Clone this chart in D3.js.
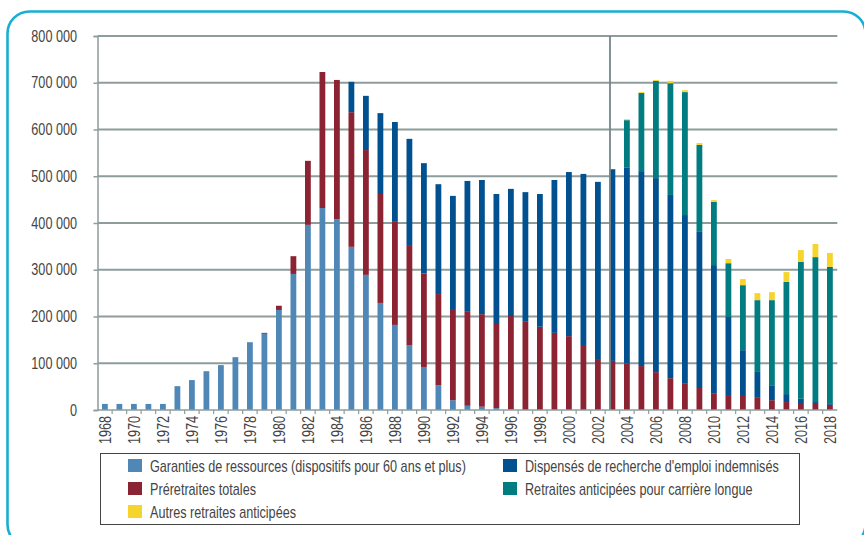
<!DOCTYPE html>
<meta charset="utf-8">
<html>
<head>
    <script src="https://d3js.org/d3.v7.min.js"></script>
    <style>
        body { margin: 0; background: #fff; }
        text { font-family: "Liberation Sans Narrow", "Liberation Sans", Arial, sans-serif; fill: #444; }
    </style>
</head>
<body>
<div id="chart"></div>
<script>
    // years 1968 - 2018
    var years = d3.range(1968, 2019);

    // values in thousands, one per year
    var garanties = [13, 13, 13, 13, 13, 51, 64, 83, 96, 113, 145, 163, 214, 291, 396, 432, 408, 349, 289, 229,
        182, 138, 92, 53, 21, 9, 7, 4, 2, 0, 0, 0, 0, 0, 0, 0, 0, 0, 0, 0, 0, 0, 0, 0, 0, 0, 0, 0, 0, 0, 0];
    var preretraites = [0, 0, 0, 0, 0, 0, 0, 0, 0, 0, 0, 2, 9, 38, 137, 291, 298, 288, 267, 233,
        222, 213, 200, 195, 195, 201, 198, 180, 199, 190, 178, 165, 158, 139, 109, 105, 100, 94, 81, 68,
        56, 47, 36, 32, 30, 26, 21, 17, 15, 15, 11];
    var dispenses = [0, 0, 0, 0, 0, 0, 0, 0, 0, 0, 0, 0, 0, 0, 0, 0, 0, 65, 116, 173,
        212, 229, 236, 235, 242, 280, 287, 278, 272, 276, 284, 327, 351, 366, 379, 410, 418, 417, 415, 392,
        361, 334, 274, 167, 98, 57, 32, 17, 9, 2, 2];
    var carriereLongue = [0, 0, 0, 0, 0, 0, 0, 0, 0, 0, 0, 0, 0, 0, 0, 0, 0, 0, 0, 0,
        0, 0, 0, 0, 0, 0, 0, 0, 0, 0, 0, 0, 0, 0, 0, 0, 102, 167, 208, 239,
        263, 186, 135, 115, 139, 152, 182, 240, 293, 310, 293];
    var autres = [0, 0, 0, 0, 0, 0, 0, 0, 0, 0, 0, 0, 0, 0, 0, 0, 0, 0, 0, 0,
        0, 0, 0, 0, 0, 0, 0, 0, 0, 0, 0, 0, 0, 0, 0, 0, 2, 2, 2, 5,
        4, 4, 4, 9, 13, 15, 17, 21, 25, 28, 30];

    var seriesNames = [
        "Garanties de ressources (dispositifs pour 60 ans et plus)",
        "Préretraites totales",
        "Dispensés de recherche d'emploi indemnisés",
        "Retraites anticipées pour carrière longue",
        "Autres retraites anticipées"
    ];
    var seriesKeys = ["garanties", "preretraites", "dispenses", "carriereLongue", "autres"];
    var colors = ["#4f88b7", "#8c2333", "#01508f", "#017c81", "#f6d42c"];
    var yTicks = [0, 100000, 200000, 300000, 400000, 500000, 600000, 700000, 800000];

    var table = years.map(function (y, i) {
        return {
            year: y,
            garanties: garanties[i] * 1000,
            preretraites: preretraites[i] * 1000,
            dispenses: dispenses[i] * 1000,
            carriereLongue: carriereLongue[i] * 1000,
            autres: autres[i] * 1000
        };
    });

    var W = 864, H = 535;
    var narrow = 0.79; // squeeze text to look like a condensed face

    var svg = d3.select("#chart").append("svg")
        .attr("width", W).attr("height", H);

    // rounded frame
    svg.append("rect")
        .attr("x", 7.5).attr("y", 11.5)
        .attr("width", 858).attr("height", 535)
        .attr("rx", 22)
        .attr("fill", "none")
        .attr("stroke", "#19aed3")
        .attr("stroke-width", 2.6);

    var plotLeft = 97.5, plotRight = 837.3, plotTop = 36, plotBottom = 410;

    var x = d3.scaleBand()
        .domain(years)
        .range([plotLeft, plotRight])
        .paddingInner(0.6)
        .paddingOuter(0.31);

    var y = d3.scaleLinear()
        .domain([0, 800000])
        .range([plotBottom, plotTop]);

    // gridlines
    svg.append("g")
        .selectAll("line")
        .data(yTicks.slice(1))
        .enter().append("line")
        .attr("x1", plotLeft).attr("x2", plotRight)
        .attr("y1", function (d) { return y(d); })
        .attr("y2", function (d) { return y(d); })
        .attr("stroke", "#8e9c9c")
        .attr("stroke-width", 1.8);

    // stacked bars
    var stack = d3.stack().keys(seriesKeys);
    var layers = stack(table);

    svg.append("g")
        .selectAll("g")
        .data(layers)
        .enter().append("g")
        .attr("fill", function (d, i) { return colors[i]; })
        .selectAll("rect")
        .data(function (d) { return d; })
        .enter().append("rect")
        .attr("x", function (d) { return x(d.data.year); })
        .attr("width", x.bandwidth())
        .attr("y", function (d) { return y(d[1]); })
        .attr("height", function (d) { return y(d[0]) - y(d[1]); });

    // vertical separator before 2003
    var sepX = x(2003) + 0.5;
    svg.append("line")
        .attr("x1", sepX).attr("x2", sepX)
        .attr("y1", plotTop).attr("y2", plotBottom)
        .attr("stroke", "#75868c")
        .attr("stroke-width", 1.8);

    // Y axis
    var yAxis = svg.append("g")
        .attr("transform", "translate(" + plotLeft + ",0)")
        .call(d3.axisLeft(y)
            .tickValues(yTicks)
            .tickSize(4)
            .tickPadding(0)
            .tickFormat(function (d) { return d3.format(",")(d).replace(/,/g, " "); }));
    yAxis.selectAll("path, line").attr("stroke", "#8e9c9c").attr("stroke-width", 1.5);
    yAxis.selectAll("text")
        .attr("x", null)
        .attr("transform", "translate(-20.5,0) scale(" + narrow + ",1)")
        .style("font-size", "16px")
        .attr("fill", "#444");

    // X axis: ticks on category boundaries
    var step = x.step();
    var xAxis = svg.append("g");
    xAxis.append("line")
        .attr("x1", plotLeft).attr("x2", plotRight)
        .attr("y1", plotBottom).attr("y2", plotBottom)
        .attr("stroke", "#8e9c9c").attr("stroke-width", 1.5);
    xAxis.selectAll(".tk")
        .data(years.slice(1))
        .enter().append("line")
        .attr("x1", function (d) { return x(d) - (step - x.bandwidth()) / 2; })
        .attr("x2", function (d) { return x(d) - (step - x.bandwidth()) / 2; })
        .attr("y1", plotBottom).attr("y2", plotBottom + 4)
        .attr("stroke", "#8e9c9c").attr("stroke-width", 1.2);
    xAxis.selectAll(".lbl")
        .data(years.filter(function (d) { return d % 2 === 0; }))
        .enter().append("text")
        .attr("transform", function (d) {
            return "translate(" + (x(d) + x.bandwidth() / 2 + 6) + "," + (plotBottom + 6) +
                ") rotate(-90) scale(" + narrow + ",1)";
        })
        .attr("text-anchor", "end")
        .style("font-size", "16px")
        .text(function (d) { return d; });

    // legend
    var lg = svg.append("g");
    lg.append("rect")
        .attr("x", 100.5).attr("y", 453.5)
        .attr("width", 699).attr("height", 71)
        .attr("fill", "#fff")
        .attr("stroke", "#444")
        .attr("stroke-width", 1);

    var legendItems = [
        { i: 0, x: 128, y: 459 },
        { i: 1, x: 128, y: 482 },
        { i: 4, x: 128, y: 505 },
        { i: 2, x: 503, y: 459 },
        { i: 3, x: 503, y: 482 }
    ];
    legendItems.forEach(function (it) {
        lg.append("rect")
            .attr("x", it.x).attr("y", it.y)
            .attr("width", 14).attr("height", 13)
            .attr("fill", colors[it.i]);
        lg.append("text")
            .attr("transform", "translate(" + (it.x + 22) + "," + (it.y + 12.5) + ") scale(" + narrow + ",1)")
            .style("font-size", "16px")
            .text(seriesNames[it.i]);
    });
</script>
</body>
</html>
